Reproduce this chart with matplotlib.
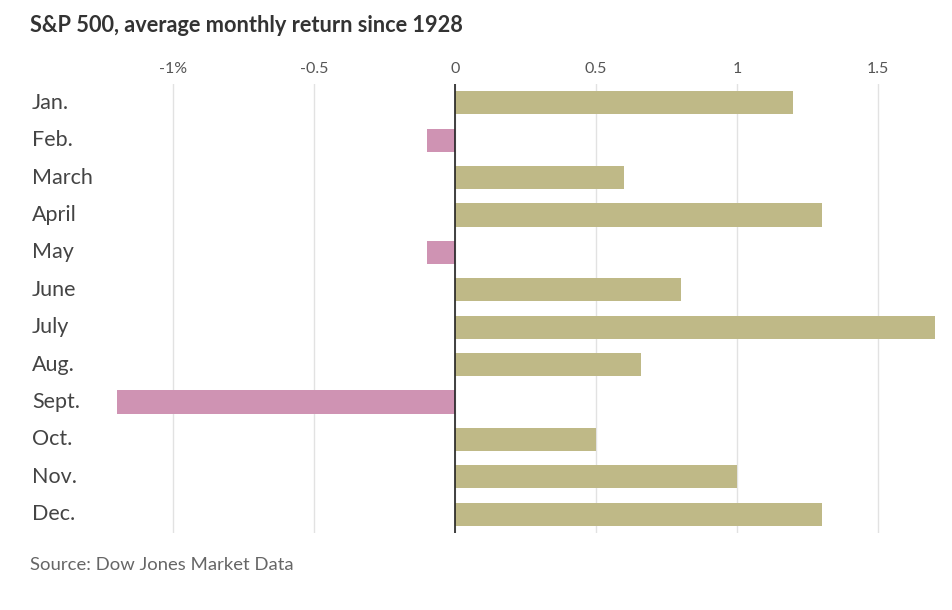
import matplotlib
matplotlib.use("Agg")
import matplotlib.pyplot as plt
from matplotlib.transforms import blended_transform_factory

months = ["Jan.", "Feb.", "March", "April", "May", "June", "July", "Aug.",
          "Sept.", "Oct.", "Nov.", "Dec."]
returns = [1.2, -0.1, 0.6, 1.3, -0.1, 0.8, 1.7, 0.66, -1.2, 0.5, 1.0, 1.3]
xticks = [-1, -0.5, 0, 0.5, 1, 1.5]
xticklabels = ["-1%", "-0.5", "0", "0.5", "1", "1.5"]

POS = "#bfb987"
NEG = "#cf93b3"

plt.rcParams['font.family'] = ['Lato', 'DejaVu Sans']

fig = plt.figure(figsize=(9.52, 6.10), dpi=100)
ax = fig.add_axes([102.5 / 952, 1 - 533 / 610, 832 / 952, 449 / 610])

y = list(range(len(months)))
colors = [POS if v >= 0 else NEG for v in returns]
ax.barh(y, returns, height=0.62, color=colors, zorder=2)

ax.set_xlim(-1.25, 1.7)
ax.set_ylim(11.5, -0.5)
ax.set_xticks(xticks)
ax.set_xticklabels(xticklabels)
ax.xaxis.tick_top()
ax.tick_params(axis='x', length=0, pad=6, labelsize=11.5, labelcolor="#555555")
ax.set_yticks([])
for s in ax.spines.values():
    s.set_visible(False)
ax.grid(axis='x', color="#e2e2e2", linewidth=1, zorder=0)
ax.axvline(0, color="#222222", linewidth=1.2, zorder=3)

tr = blended_transform_factory(fig.transFigure, ax.transData)
for i, m in enumerate(months):
    ax.text(32 / 952, i, m, transform=tr, ha='left', va='center',
            fontsize=15.5, color="#444444")

fig.text(30 / 952, 1 - 26 / 610, "S&P 500, average monthly return since 1928",
         ha='left', va='center', fontsize=15.7, fontweight='bold', color="#333333")
fig.text(30 / 952, 1 - 565 / 610, "Source: Dow Jones Market Data",
         ha='left', va='center', fontsize=13.3, color="#666666")

fig.savefig("out.png", dpi=100)
